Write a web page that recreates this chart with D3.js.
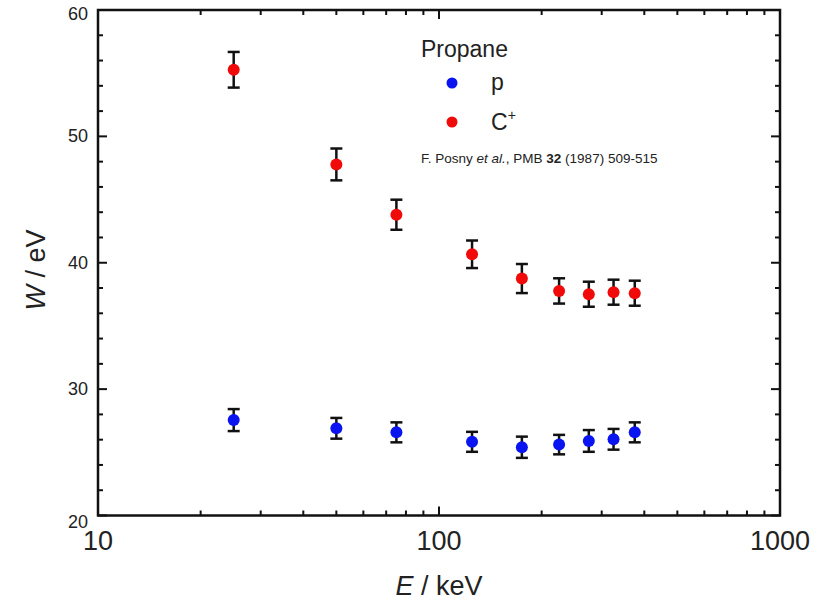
<!DOCTYPE html>
<html>
<head>
<meta charset="utf-8">
<script src="https://cdn.jsdelivr.net/npm/d3@7"></script>
<style>
  body { margin: 0; background: #fff; }
  text { font-family: "Liberation Sans", Arial, sans-serif; fill: #222; }
</style>
</head>
<body>
<div id="chart"></div>
<script>
// energies (keV)
const energies = [25, 50, 75, 125, 175, 225, 275, 325, 375];
// W values (eV) and errors
const protonW   = [27.55, 26.9, 26.58, 25.83, 25.4, 25.61, 25.9, 26.03, 26.58];
const protonErr = [0.87, 0.82, 0.79, 0.79, 0.84, 0.77, 0.86, 0.82, 0.79];
const carbonW   = [55.27, 47.78, 43.8, 40.67, 38.75, 37.77, 37.51, 37.67, 37.59];
const carbonErr = [1.41, 1.26, 1.19, 1.09, 1.15, 1.0, 0.99, 0.99, 0.99];

const xMajor = [10, 100, 1000];
const yMajor = [20, 30, 40, 50, 60];

const width = 825, height = 603;
const margin = {top: 10, right: 45, bottom: 87.5, left: 98};
const w = width - margin.left - margin.right;
const h = height - margin.top - margin.bottom;

const svg = d3.select('#chart').append('svg')
  .attr('width', width)
  .attr('height', height);

const x = d3.scaleLog().domain([10, 1000]).range([0, w]);
const y = d3.scaleLinear().domain([20, 60]).range([h, 0]);

const g = svg.append('g')
  .attr('transform', 'translate(' + [margin.left, margin.top] + ')');

// minor ticks
let xMinor = [];
for (let d = 10; d < 1000; d *= 10) {
  for (let k = 2; k <= 9; k++) xMinor.push(d * k);
}
let yMinor = d3.range(22, 60, 2).filter(v => v % 10 !== 0);

const tickStyle = sel => sel.attr('stroke', '#111').attr('stroke-width', 2);

// bottom and top ticks (inward)
[[h, -1], [0, 1]].forEach(([y0, dir]) => {
  g.append('g').selectAll('line.minor').data(xMinor).enter().append('line')
    .attr('x1', d => x(d)).attr('x2', d => x(d))
    .attr('y1', y0).attr('y2', y0 + dir * 5)
    .call(tickStyle);
  g.append('g').selectAll('line.major').data(xMajor).enter().append('line')
    .attr('x1', d => x(d)).attr('x2', d => x(d))
    .attr('y1', y0).attr('y2', y0 + dir * 9)
    .call(tickStyle);
});
// left and right ticks (inward)
[[0, 1], [w, -1]].forEach(([x0, dir]) => {
  g.append('g').selectAll('line.minor').data(yMinor).enter().append('line')
    .attr('y1', d => y(d)).attr('y2', d => y(d))
    .attr('x1', x0).attr('x2', x0 + dir * 5)
    .call(tickStyle);
  g.append('g').selectAll('line.major').data(yMajor).enter().append('line')
    .attr('y1', d => y(d)).attr('y2', d => y(d))
    .attr('x1', x0).attr('x2', x0 + dir * 9)
    .call(tickStyle);
});

// frame
g.append('rect')
  .attr('width', w).attr('height', h)
  .attr('fill', 'none')
  .attr('stroke', '#111')
  .attr('stroke-width', 2.5);

// tick labels
g.append('g').selectAll('text').data(xMajor).enter().append('text')
  .attr('x', d => x(d)).attr('y', h + 34)
  .attr('text-anchor', 'middle')
  .style('font-size', '27px')
  .text(d => d);

g.append('g').selectAll('text').data(yMajor).enter().append('text')
  .attr('x', -10).attr('y', d => y(d) + (d === 20 ? 12 : d === 60 ? 10 : 6))
  .attr('text-anchor', 'end')
  .style('font-size', '18px')
  .text(d => d);

// axis titles
const xt = svg.append('text')
  .attr('x', margin.left + x(100)).attr('y', 595)
  .attr('text-anchor', 'middle')
  .style('font-size', '27px');
xt.append('tspan').style('font-style', 'italic').text('E');
xt.append('tspan').text(' / keV');

const yt = svg.append('text')
  .attr('transform', 'translate(45,270) rotate(-90)')
  .attr('text-anchor', 'middle')
  .style('font-size', '27px');
yt.append('tspan').style('font-style', 'italic').text('W');
yt.append('tspan').text(' / eV');

// data series
const series = [
  {name: 'p', color: '#0a14f0', W: protonW, err: protonErr},
  {name: 'C+', color: '#f00a0a', W: carbonW, err: carbonErr}
];

series.forEach(s => {
  const pts = energies.map((e, i) => ({e: e, w: s.W[i], err: s.err[i]}));
  const grp = g.append('g');
  const bars = grp.selectAll('g.bar').data(pts).enter().append('g');
  bars.append('line')
    .attr('x1', d => x(d.e)).attr('x2', d => x(d.e))
    .attr('y1', d => y(d.w - d.err)).attr('y2', d => y(d.w + d.err))
    .attr('stroke', '#111').attr('stroke-width', 2.5);
  [-1, 1].forEach(sg => {
    bars.append('line')
      .attr('x1', d => x(d.e) - 6).attr('x2', d => x(d.e) + 6)
      .attr('y1', d => y(d.w + sg * d.err)).attr('y2', d => y(d.w + sg * d.err))
      .attr('stroke', '#111').attr('stroke-width', 2.5);
  });
  bars.append('circle')
    .attr('cx', d => x(d.e)).attr('cy', d => y(d.w))
    .attr('r', 6)
    .attr('fill', s.color);
});

// legend
const lg = svg.append('g');
lg.append('text').attr('x', 421).attr('y', 57)
  .style('font-size', '23px').text('Propane');
lg.append('circle').attr('cx', 452).attr('cy', 83).attr('r', 5.5).attr('fill', series[0].color);
lg.append('text').attr('x', 491).attr('y', 90)
  .style('font-size', '23px').text('p');
lg.append('circle').attr('cx', 452).attr('cy', 122).attr('r', 5.5).attr('fill', series[1].color);
const ct = lg.append('text').attr('x', 491).attr('y', 130)
  .style('font-size', '23px');
ct.append('tspan').text('C');
ct.append('tspan').attr('dy', -10).style('font-size', '14px').text('+');

const cite = lg.append('text').attr('x', 421).attr('y', 163)
  .style('font-size', '13.5px');
cite.append('tspan').text('F. Posny ');
cite.append('tspan').style('font-style', 'italic').text('et al.');
cite.append('tspan').text(', PMB ');
cite.append('tspan').style('font-weight', 'bold').text('32');
cite.append('tspan').text(' (1987) 509-515');
</script>
</body>
</html>
